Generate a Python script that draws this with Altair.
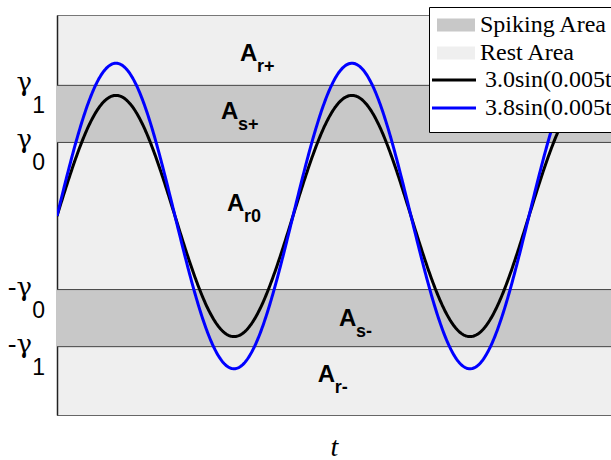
import numpy as np
import pandas as pd
import altair as alt

# ---- values ----
amplitudes = [3.0, 3.8]
omega = 0.005
series_names = ["3.0sin(0.005t)", "3.8sin(0.005t)"]
series_colors = ["#000000", "#0000ff"]
t_max = 2950
y_min, y_max = -4.95, 5.0

gamma0 = 1.83
gamma1 = 3.25

area_names = ["Spiking Area", "Rest Area"]
area_colors = ["#c8c8c8", "#efefef"]
band_kinds = ["Spiking Area", "Spiking Area"]
band_low = [gamma0, -gamma1]
band_high = [gamma1, -gamma0]

edge_values = [gamma1, gamma0, -gamma0, -gamma1]
tick_main = ["γ", "γ", "-γ", "-γ"]
tick_sub = ["1", "0", "0", "1"]

ann_main = ["A", "A", "A", "A", "A"]
ann_sub = ["r+", "s+", "r0", "s-", "r-"]
ann_t = [974, 873, 905, 1501, 1389]
ann_y = [3.85, 2.41, 0.12, -2.73, -4.12]

# ---- tables ----
t = np.linspace(0, t_max, 800)
curves = pd.concat(
    [pd.DataFrame({"t": t, "v": a * np.sin(omega * t), "series": n})
     for a, n in zip(amplitudes, series_names)],
    ignore_index=True,
)
bands = pd.DataFrame({"kind": band_kinds, "lo": band_low, "hi": band_high})
edges = pd.DataFrame({"v": edge_values, "main": tick_main, "sub": tick_sub})
ann = pd.DataFrame({"t": ann_t, "v": ann_y, "main": ann_main, "sub": ann_sub})

x_scale = alt.Scale(domain=[0, t_max], nice=False, zero=False)
y_scale = alt.Scale(domain=[y_min, y_max], nice=False, zero=False)

common_leg = dict(orient="none", labelFont="Liberation Serif", labelFontSize=24,
                  labelColor="black", labelLimit=400, padding=6, rowPadding=4,
                  cornerRadius=0, symbolSize=100, symbolOpacity=1)

area_legend = alt.Legend(
    legendX=372, legendY=-8, title="\u00a0", titleOrient="bottom",
    titleFontSize=50, titlePadding=11,
    symbolType="M-3.8,-1.3H3.8V1.3H-3.8Z", symbolStrokeWidth=0,
    symbolOffset=9, labelOffset=12,
    labelExpr="datum.label + '\u00a0\u00a0\u00a0\u00a0\u00a0\u00a0\u00a0\u00a0\u00a0'",
    strokeColor="black", fillColor="white", **common_leg)

line_legend = alt.Legend(
    legendX=372, legendY=47, title=None,
    symbolType="M-4.4,0H4.4", symbolStrokeWidth=3,
    symbolOffset=7, labelOffset=19, **common_leg)

band_layer = alt.Chart(bands).mark_rect().encode(
    y=alt.Y("lo:Q", scale=y_scale, title=None),
    y2="hi:Q",
    fill=alt.Fill("kind:N", scale=alt.Scale(domain=area_names, range=area_colors),
                  legend=area_legend),
)

edge_layer = alt.Chart(edges).mark_rule(color="#444444", strokeWidth=1).encode(
    y=alt.Y("v:Q", scale=y_scale, title=None),
)

curve_layer = alt.Chart(curves).mark_line(strokeWidth=3, clip=True).encode(
    x=alt.X("t:Q", scale=x_scale, title="t"),
    y=alt.Y("v:Q", scale=y_scale, title=None),
    stroke=alt.Stroke("series:N", scale=alt.Scale(domain=series_names, range=series_colors),
                      legend=line_legend),
)

ann_main_layer = alt.Chart(ann).mark_text(
    align="left", baseline="alphabetic", font="Liberation Sans", fontWeight="bold",
    fontSize=24, color="black"
).encode(
    x=alt.X("t:Q", scale=x_scale, title="t"),
    y=alt.Y("v:Q", scale=y_scale, title=None),
    text="main:N",
)
ann_sub_layer = alt.Chart(ann).mark_text(
    align="left", baseline="alphabetic", font="Liberation Sans", fontWeight="bold",
    fontSize=18, color="black", dx=17, dy=11
).encode(
    x=alt.X("t:Q", scale=x_scale, title="t"),
    y=alt.Y("v:Q", scale=y_scale, title=None),
    text="sub:N",
)

tick_main_layer = alt.Chart(edges).mark_text(
    align="right", baseline="alphabetic", font="DejaVu Serif", fontSize=26,
    color="black", dx=-25, dy=6
).encode(
    x=alt.X(datum=0, type="quantitative", scale=x_scale, title="t"),
    y=alt.Y("v:Q", scale=y_scale, title=None),
    text="main:N",
)
tick_sub_layer = alt.Chart(edges).mark_text(
    align="right", baseline="alphabetic", font="Liberation Sans", fontSize=23,
    color="black", dx=-12, dy=28
).encode(
    x=alt.X(datum=0, type="quantitative", scale=x_scale, title="t"),
    y=alt.Y("v:Q", scale=y_scale, title=None),
    text="sub:N",
)

chart = alt.layer(
    band_layer, edge_layer, curve_layer, ann_main_layer, ann_sub_layer,
    tick_main_layer, tick_sub_layer,
).properties(
    width=554, height=400,
    autosize=alt.AutoSizeParams(type="none"),
    padding={"left": 57, "top": 15, "right": 0, "bottom": 45},
    background="white",
).configure_view(
    stroke="#777777", strokeWidth=1, fill="#efefef"
).configure_axis(
    labels=False, ticks=False, grid=False, zindex=1,
).configure_axisX(
    domainColor="#666666", titleFont="Liberation Serif", titleFontStyle="italic",
    titleFontWeight="normal", titleFontSize=28, titleColor="black", titlePadding=18,
).configure_axisY(
    domainColor="#222222", domainWidth=1.5,
)

chart.save("out.html", embed_options={"renderer": "svg", "actions": False})
